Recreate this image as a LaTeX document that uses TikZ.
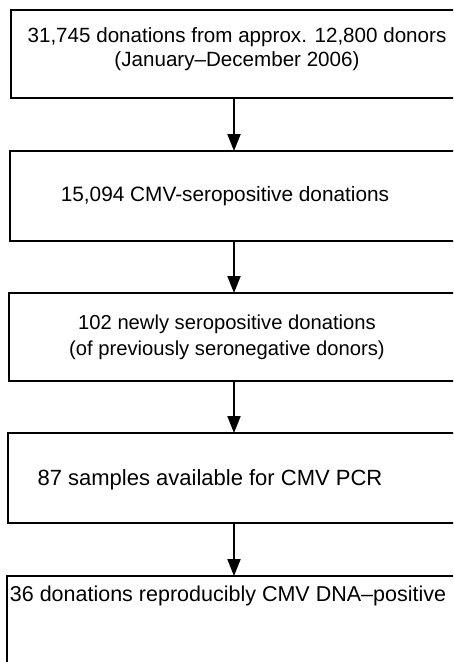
\documentclass[tikz,border=0pt]{standalone}
\usepackage{fontspec}
\setmainfont{Liberation Sans}
\usetikzlibrary{arrows.meta,calc}
\begin{document}
\begin{tikzpicture}[x=1pt,y=-1pt,
  box/.style={draw, line width=2pt, rectangle, anchor=north west, inner sep=0pt, outer sep=0pt},
  lbl/.style={align=center, inner sep=0pt},
  arr/.style={line width=2pt, -{Triangle[length=17pt,width=13pt]}}]
\useasboundingbox (0,0) rectangle (453,662);
\clip (0,0) rectangle (453,662);
\node[box, minimum width=450pt, minimum height=88pt] (b1) at (11,10) {};
\node[box, minimum width=452pt, minimum height=90pt] (b2) at (10,151) {};
\node[box, minimum width=453pt, minimum height=88pt] (b3) at (9,293) {};
\node[box, minimum width=454pt, minimum height=90pt] (b4) at (8,433) {};
\node[box, minimum width=455pt, minimum height=124pt] (b5) at (7,576) {};
\coordinate (ax) at (234,0);
\node[lbl, font=\fontsize{20.6}{24}\selectfont] (t1) at (237,49) {31,745 donations from approx. 12,800 donors\\(January--December 2006)};
\node[lbl, font=\fontsize{20.8}{24}\selectfont] (t2) at (225,196) {15,094 CMV-seropositive donations};
\node[lbl, font=\fontsize{20.2}{26}\selectfont] (t3) at (227,337) {102 newly seropositive donations\\(of previously seronegative donors)};
\node[lbl, font=\fontsize{22}{24}\selectfont] (t4) at (210,480) {87 samples available for CMV PCR};
\node[lbl, font=\fontsize{21.5}{24}\selectfont] (t5) at (228,596) {36 donations reproducibly CMV DNA--positive};
\draw[arr] (b1.south -| ax) -- (b2.north -| ax);
\draw[arr] (b2.south -| ax) -- (b3.north -| ax);
\draw[arr] (b3.south -| ax) -- (b4.north -| ax);
\draw[arr] (b4.south -| ax) -- (b5.north -| ax);
\end{tikzpicture}
\end{document}
